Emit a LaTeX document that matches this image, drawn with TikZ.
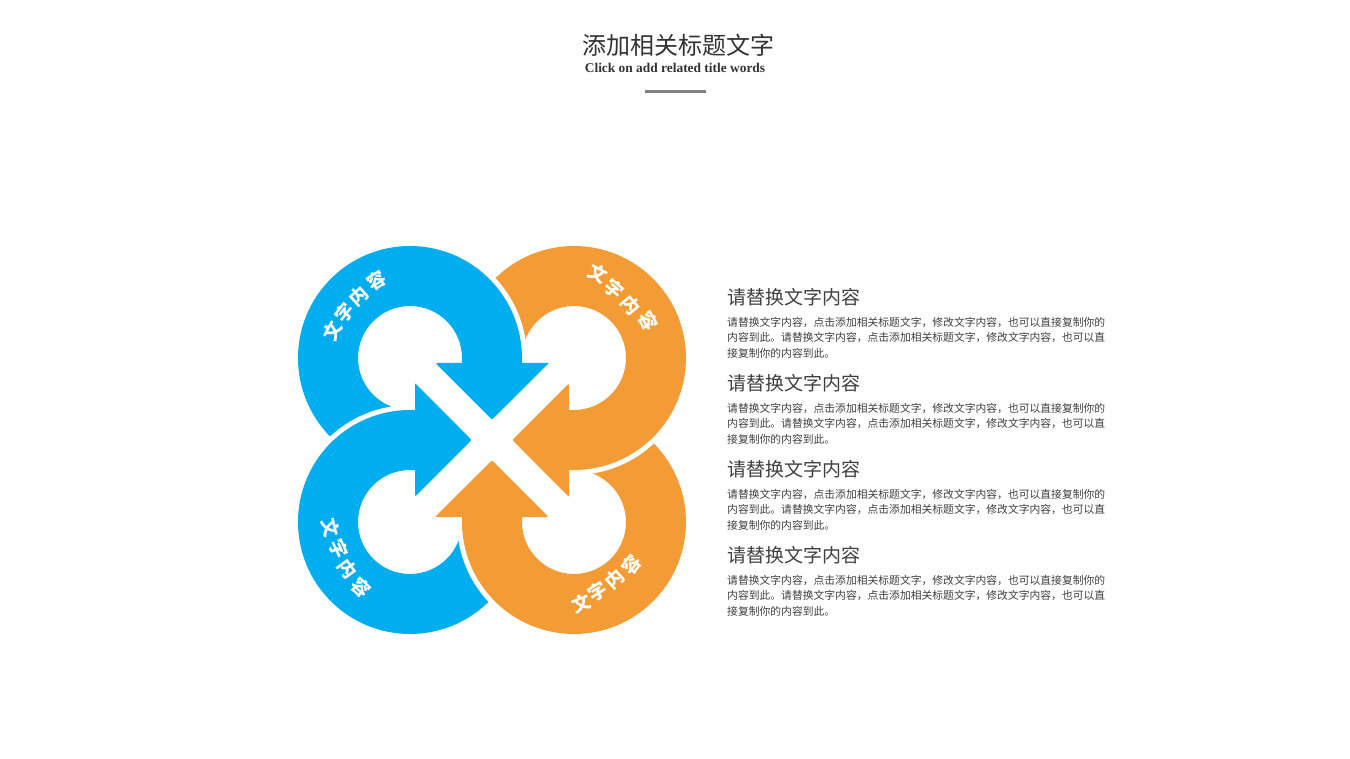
\documentclass[tikz,border=0pt]{standalone}
\usepackage{fontspec}
\setmainfont{Liberation Serif}
\newfontfamily\cjk{Noto Sans CJK SC}
\definecolor{ringblue}{RGB}{0,173,238}
\definecolor{ringorange}{RGB}{243,156,54}
\definecolor{titlegray}{RGB}{51,51,51}
\definecolor{textgray}{RGB}{64,64,64}
\definecolor{rulegray}{RGB}{128,128,128}
\tikzset{
  ringfill/.style={fill=#1, preaction={draw=white, line width=10pt, line join=round}},
  gapstrip/.style={draw=white, line width=28pt},
  ringlabel/.style={text=white, inner sep=0pt, font=\cjk\bfseries\fontsize{18.5}{18.5}\selectfont},
  headtext/.style={anchor=west, inner sep=0pt, text=textgray, font=\cjk\fontsize{19}{19}\selectfont},
  bodytext/.style={anchor=west, inner sep=0pt, text=textgray, font=\cjk\fontsize{10.8}{10.8}\selectfont}
}
\newcommand{\tlpath}{([shift={(cTL)}]45:112) arc[start angle=45, end angle=360, radius=112] -- (522,363) [rounded corners=2.5pt] -- (550,363) -- (492,420) -- (435,363) [sharp corners] -- (462,363) -- (462,358) arc[start angle=360, end angle=45, radius=52] -- cycle}
\newcommand{\trpath}{([shift={(cTR)}]135:112) arc[start angle=135, end angle=450, radius=112] -- (569,470) [rounded corners=2.5pt] -- (569,498) -- (512,440) -- (569,383) [sharp corners] -- (569,410) -- (574,410) arc[start angle=450, end angle=135, radius=52] -- cycle}
\newcommand{\brpath}{([shift={(cBR)}]225:112) arc[start angle=225, end angle=540, radius=112] -- (462,517) [rounded corners=2.5pt] -- (434,517) -- (492,460) -- (549,517) [sharp corners] -- (522,517) -- (522,522) arc[start angle=540, end angle=225, radius=52] -- cycle}
\newcommand{\blpath}{([shift={(cBL)}]315:112) arc[start angle=315, end angle=630, radius=112] -- (415,410) [rounded corners=2.5pt] -- (415,382) -- (472,440) -- (415,497) [sharp corners] -- (415,470) -- (410,470) arc[start angle=630, end angle=315, radius=52] -- cycle}
\begin{document}
\begin{tikzpicture}[x=1pt, y=-1pt]
\useasboundingbox (0,0) rectangle (1350,759);
\fill[white] (0,0) rectangle (1350,759);
\coordinate (cTL) at (410,358);
\coordinate (cTR) at (574,358);
\coordinate (cBR) at (574,522);
\coordinate (cBL) at (410,522);
\coordinate (cMid) at (492,440);
% rings, cyclic overlap
\path[ringfill=ringblue] \blpath;
\path[ringfill=ringorange] \brpath;
\path[ringfill=ringorange] \trpath;
\path[ringfill=ringblue] \tlpath;
\begin{scope}
  \clip (cMid) -- (290,238) -- (290,642) -- cycle;
  \path[ringfill=ringblue] \blpath;
\end{scope}
% white X strips
\path[gapstrip] (cTL) -- (cBR);
\path[gapstrip] (cTR) -- (cBL);
% ring labels
\node[ringlabel, rotate=62] (tl1) at (333,331) {文};
\node[ringlabel, rotate=52] (tl2) at (345,313) {字};
\node[ringlabel, rotate=42] (tl3) at (359,296) {内};
\node[ringlabel, rotate=32] (tl4) at (377,281) {容};
\node[ringlabel, rotate=-28] (tr1) at (598,274) {文};
\node[ringlabel, rotate=-40] (tr2) at (614,289) {字};
\node[ringlabel, rotate=-50] (tr3) at (631,305) {内};
\node[ringlabel, rotate=-60] (tr4) at (648,321) {容};
\node[ringlabel, rotate=22] (br1) at (581,603) {文};
\node[ringlabel, rotate=32] (br2) at (598,592) {字};
\node[ringlabel, rotate=42] (br3) at (615,579) {内};
\node[ringlabel, rotate=52] (br4) at (632,565) {容};
\node[ringlabel, rotate=-76] (bl1) at (331,528) {文};
\node[ringlabel, rotate=-65] (bl2) at (339,549) {字};
\node[ringlabel, rotate=-54] (bl3) at (348,569) {内};
\node[ringlabel, rotate=-43] (bl4) at (361,588) {容};
% title
\node[text=titlegray, inner sep=0pt, font=\cjk\fontsize{24}{24}\selectfont] (title) at (678,45) {添加相关标题文字};
\node[text=titlegray, inner sep=0pt, font=\bfseries\fontsize{13.4}{13.4}\selectfont] (subtitle) at (675,68) {Click on add related title words};
\coordinate (ruleL) at (645,92);
\coordinate (ruleR) at (706,92);
\draw[rulegray, line width=3pt] (ruleL) -- (ruleR);
% text blocks
\foreach \y [count=\i] in {297,383,469,555} {
  \node[headtext] (head\i) at (727,\y) {请替换文字内容};
  \node[bodytext] (bodyA\i) at (727,\y+26) {请替换文字内容，点击添加相关标题文字，修改文字内容，也可以直接复制你的};
  \node[bodytext] (bodyB\i) at (727,\y+41) {内容到此。请替换文字内容，点击添加相关标题文字，修改文字内容，也可以直};
  \node[bodytext] (bodyC\i) at (727,\y+56) {接复制你的内容到此。};
}
\end{tikzpicture}
\end{document}
